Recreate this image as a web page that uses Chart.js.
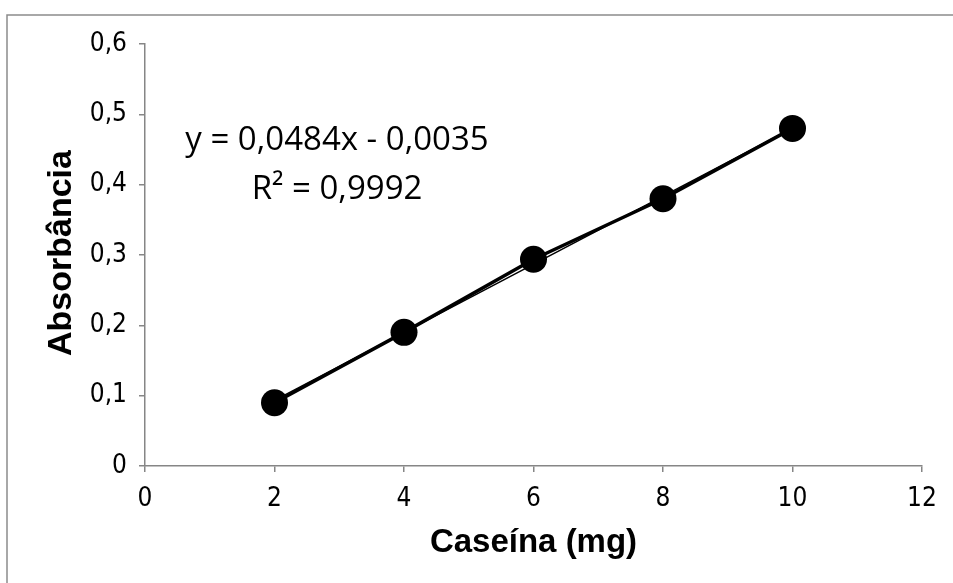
<!DOCTYPE html>
<html>
<head>
<meta charset="utf-8">
<script src="https://cdn.jsdelivr.net/npm/chart.js@4/dist/chart.umd.min.js"></script>
<style>
  body { margin: 0; background: #fff; }
  canvas { display: block; }
</style>
</head>
<body>
<canvas id="chart" width="953" height="583"></canvas>
<script>
/* --------------- Data --------------------- */
const caseina = [2, 4, 6, 8, 10];
const absorbancia = [0.09, 0.19, 0.294, 0.38, 0.48];
const trendSlope = 0.0484;
const trendIntercept = -0.0035;
const trendRange = [2, 10];
const equationLines = ['y = 0,0484x - 0,0035', 'R² = 0,9992'];
const xTitle = 'Caseína (mg)';
const yTitle = 'Absorbância';

const axisGray = '#868686';
const tickFont = '"Liberation Sans Narrow", "DejaVu Sans Condensed", Arial, sans-serif';
const points = caseina.map((x, i) => ({ x: x, y: absorbancia[i] }));
const trend = trendRange.map(x => ({ x: x, y: trendSlope * x + trendIntercept }));

/* --------------- Frame, titles and trendline label --------------------- */
const decor = {
  id: 'decor',
  afterDraw(chart) {
    const ctx = chart.ctx;
    const area = chart.chartArea;
    ctx.save();
    ctx.strokeStyle = '#8c8c8c';
    ctx.lineWidth = 1.5;
    ctx.beginPath();
    ctx.moveTo(7, 600);
    ctx.lineTo(7, 15);
    ctx.lineTo(960, 15);
    ctx.stroke();

    ctx.fillStyle = '#000';
    ctx.textAlign = 'center';
    ctx.textBaseline = 'middle';
    ctx.font = 'bold 33px "Liberation Sans", Arial, sans-serif';
    ctx.fillText(xTitle, (area.left + area.right) / 2, 543);
    ctx.translate(62, (area.top + area.bottom) / 2 - 2);
    ctx.rotate(-Math.PI / 2);
    ctx.font = 'bold 34px "Liberation Sans", Arial, sans-serif';
    ctx.fillText(yTitle, 0, 0);
    ctx.restore();

    ctx.save();
    ctx.fillStyle = '#000';
    ctx.textAlign = 'center';
    ctx.textBaseline = 'alphabetic';
    ctx.font = '33px "Open Sans", sans-serif';
    ctx.fillText(equationLines[0], 337, 150);
    ctx.fillText(equationLines[1], 337, 199);
    ctx.restore();
  }
};

new Chart(document.getElementById('chart'), {
  type: 'scatter',
  plugins: [decor],
  data: {
    datasets: [
      {
        data: trend,
        showLine: true,
        borderColor: '#000',
        borderWidth: 1.5,
        pointRadius: 0,
        order: 2,
      },
      {
        data: points,
        showLine: true,
        borderColor: '#000',
        borderWidth: 3.5,
        backgroundColor: '#000',
        pointRadius: 13.5,
        pointBorderWidth: 0,
        order: 1,
      },
    ],
  },
  options: {
    responsive: false,
    animation: false,
    layout: { padding: { left: 0, right: 31, top: 44, bottom: 0 } },
    plugins: {
      legend: { display: false },
      tooltip: { enabled: false },
    },
    scales: {
      x: {
        type: 'linear',
        min: 0,
        max: 12,
        afterFit: s => { s.height = 117; },
        grid: { display: true, drawOnChartArea: false, drawTicks: true, tickLength: 6, color: axisGray, lineWidth: 1.5 },
        border: { display: true, color: axisGray, width: 1.5 },
        ticks: {
          stepSize: 2,
          padding: 12,
          color: '#000',
          font: { family: tickFont, size: 26 },
          maxRotation: 0,
        },
      },
      y: {
        type: 'linear',
        min: 0,
        max: 0.6,
        afterFit: s => { s.width = 145; },
        grid: { display: true, drawOnChartArea: false, drawTicks: true, tickLength: 6, color: axisGray, lineWidth: 1.5 },
        border: { display: true, color: axisGray, width: 1.5 },
        ticks: {
          stepSize: 0.1,
          padding: 12,
          color: '#000',
          font: { family: tickFont, size: 26 },
          callback: v => (v === 0 ? '0' : v.toFixed(1).replace('.', ',')),
        },
      },
    },
  },
});
</script>
</body>
</html>
